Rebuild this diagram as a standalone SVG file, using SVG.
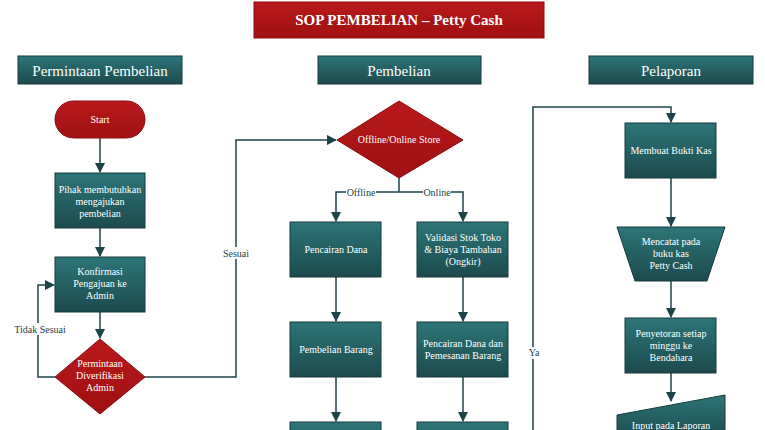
<svg xmlns="http://www.w3.org/2000/svg" width="765" height="430" viewBox="0 0 765 430">
<defs>
<linearGradient id="tg" x1="0" y1="0" x2="0" y2="1"><stop offset="0" stop-color="#2d7579"/><stop offset="1" stop-color="#1c4a4e"/></linearGradient>
<linearGradient id="rg" x1="0" y1="0" x2="0" y2="1"><stop offset="0" stop-color="#b8191b"/><stop offset="1" stop-color="#a01012"/></linearGradient>
<marker id="ah" viewBox="0 0 10 10" refX="9" refY="5" markerWidth="7" markerHeight="7" orient="auto"><path d="M0,0 L10,5 L0,10 z" fill="#1c4448"/></marker>
</defs>
<style>
.t{fill:url(#tg);stroke:#163a3d;stroke-width:1}
.r{fill:url(#rg);stroke:#8a0d0f;stroke-width:1}
text{font-family:"Liberation Serif",serif;fill:#fff;font-size:10px;text-anchor:middle}
.h{font-size:15px}
.lb{fill:#1c4448;font-size:10px}
.c{fill:none;stroke:#1c4448;stroke-width:1.5}
</style>
<rect width="765" height="430" fill="#fff"/>
<g id="title"><rect class="r" x="254" y="2" width="290" height="36"/><text x="399" y="25" class="h" font-weight="bold">SOP PEMBELIAN – Petty Cash</text></g>
<g id="lane1"><rect class="t" x="18" y="56" width="164" height="28"/><text x="100" y="76" class="h">Permintaan Pembelian</text></g>
<g id="lane2"><rect class="t" x="318" y="56" width="163" height="28"/><text x="399" y="76" class="h">Pembelian</text></g>
<g id="lane3"><rect class="t" x="589" y="56" width="164" height="28"/><text x="671" y="76" class="h">Pelaporan</text></g>
<g id="connectors">
<path class="c" d="M100,138 V172" marker-end="url(#ah)"/>
<path class="c" d="M100,228 V256" marker-end="url(#ah)"/>
<path class="c" d="M100,312 V338" marker-end="url(#ah)"/>
<path class="c" d="M55,377 H38 V285 H54" marker-end="url(#ah)"/>
<path class="c" d="M145,377 H236 V140 H336" marker-end="url(#ah)"/>
<path class="c" d="M399,178 V192"/>
<path class="c" d="M399,192 H336 V221" marker-end="url(#ah)"/>
<path class="c" d="M399,192 H463 V221" marker-end="url(#ah)"/>
<path class="c" d="M336,277 V321" marker-end="url(#ah)"/>
<path class="c" d="M463,277 V321" marker-end="url(#ah)"/>
<path class="c" d="M336,377 V421" marker-end="url(#ah)"/>
<path class="c" d="M463,377 V421" marker-end="url(#ah)"/>
<path class="c" d="M533,430 V107 H671 V122" marker-end="url(#ah)"/>
<path class="c" d="M671,178 V226" marker-end="url(#ah)"/>
<path class="c" d="M671,281 V317" marker-end="url(#ah)"/>
<path class="c" d="M671,373 V401" marker-end="url(#ah)"/>
<rect x="10" y="323" width="60" height="12" fill="#fff"/><text class="lb" x="40" y="333">Tidak Sesuai</text>
<rect x="220" y="247" width="32" height="12" fill="#fff"/><text class="lb" x="236" y="257">Sesuai</text>
<rect x="346" y="186" width="30" height="12" fill="#fff"/><text class="lb" x="361" y="196">Offline</text>
<rect x="423" y="186" width="28" height="12" fill="#fff"/><text class="lb" x="437" y="196">Online</text>
<rect x="526" y="347" width="14" height="12" fill="#fff"/><text class="lb" x="534" y="356">Ya</text>
</g>
<g id="start"><rect class="r" x="55" y="101" width="90" height="37" rx="18.5"/><text x="100" y="123">Start</text></g>
<g id="n1"><rect class="t" x="55" y="173" width="90" height="55"/><text x="100" y="193">Pihak membutuhkan</text><text x="100" y="205">mengajukan</text><text x="100" y="217">pembelian</text></g>
<g id="n2"><rect class="t" x="55" y="257" width="90" height="55"/><text x="100" y="275">Konfirmasi</text><text x="100" y="287">Pengajuan ke</text><text x="100" y="299">Admin</text></g>
<g id="d1"><polygon class="r" points="100,339 145,377 100,414 55,377"/><text x="100" y="367">Permintaan</text><text x="100" y="379">Diverifikasi</text><text x="100" y="391">Admin</text></g>
<g id="d2"><polygon class="r" points="399,101 463,140 399,178 337,140"/><text x="399" y="143">Offline/Online Store</text></g>
<g id="n3"><rect class="t" x="290" y="222" width="91" height="55"/><text x="336" y="253">Pencairan Dana</text></g>
<g id="n4"><rect class="t" x="417" y="222" width="91" height="55"/><text x="463" y="241">Validasi Stok Toko</text><text x="463" y="253">&amp; Biaya Tambahan</text><text x="463" y="265">(Ongkir)</text></g>
<g id="n5"><rect class="t" x="290" y="322" width="91" height="55"/><text x="336" y="353">Pembelian Barang</text></g>
<g id="n6"><rect class="t" x="417" y="322" width="91" height="55"/><text x="463" y="347">Pencairan Dana dan</text><text x="463" y="359">Pemesanan Barang</text></g>
<g id="n7"><rect class="t" x="290" y="422" width="91" height="55"/></g>
<g id="n8"><rect class="t" x="417" y="422" width="91" height="55"/></g>
<g id="n9"><rect class="t" x="625" y="123" width="91" height="55"/><text x="671" y="154">Membuat Bukti Kas</text></g>
<g id="n10"><polygon class="t" points="617,227 725,227 707,281 635,281"/><text x="671" y="245">Mencatat pada</text><text x="671" y="257">buku kas</text><text x="671" y="269">Petty Cash</text></g>
<g id="n11"><rect class="t" x="625" y="318" width="91" height="55"/><text x="671" y="337">Penyetoran setiap</text><text x="671" y="349">minggu ke</text><text x="671" y="361">Bendahara</text></g>
<g id="n12"><polygon class="t" points="617,415 725,395 725,440 617,440"/><text x="671" y="429">Input pada Laporan</text></g>
</svg>
